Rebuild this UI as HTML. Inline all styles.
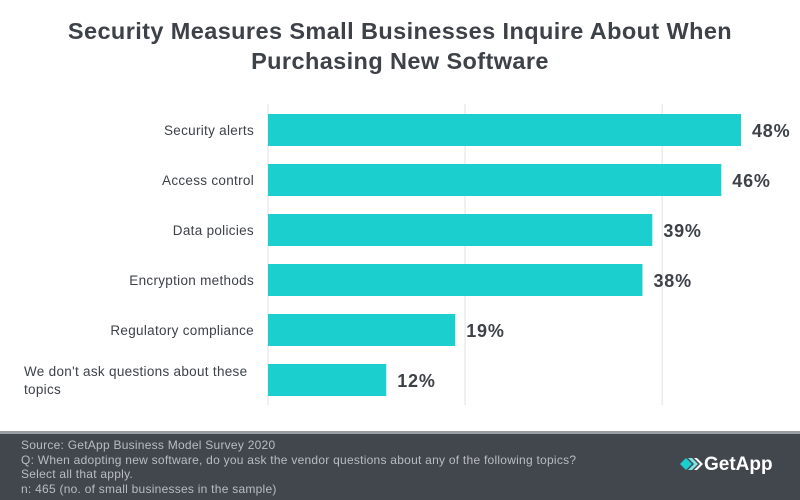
<!DOCTYPE html>
<html><head><meta charset="utf-8"><style>
body{margin:0;width:800px;height:500px;background:#fff;font-family:"Liberation Sans",sans-serif;overflow:hidden;position:relative}
#title{position:absolute;top:16px;left:0;width:800px;text-align:center;font-weight:bold;font-size:23.5px;letter-spacing:0.4px;line-height:30px;color:#3d4148}
#footer{position:absolute;left:0;top:431px;width:800px;height:69px;background:#42474e;border-top:3px solid #9a9da1;box-sizing:border-box}
#ftext{position:absolute;left:21px;top:4px;font-size:12px;letter-spacing:0.25px;line-height:14.7px;color:#b9bdc1}
#logo{position:absolute;left:680px;top:20px;color:#fff;font-weight:bold;font-size:19px}
</style></head><body>
<div id="title">Security Measures Small Businesses Inquire About When<br>Purchasing New Software</div>
<svg id="chart" width="800" height="430" style="position:absolute;left:0;top:0"></svg>
<div id="footer">
<div id="ftext">Source: GetApp Business Model Survey 2020<br>Q: When adopting new software, do you ask the vendor questions about any of the following topics?<br>Select all that apply.<br>n: 465 (no. of small businesses in the sample)</div>
<div id="logo"><svg width="24" height="16" style="vertical-align:-2px"><polygon points="0,8 6,2 12,8 6,14" fill="#1ccfcf"/><polygon points="8,2 12,2 18,8 12,14 8,14 14,8" fill="#7fe3e3"/><polygon points="14,2 17,2 23,8 17,14 14,14 20,8" fill="#fff"/></svg>GetApp</div>
</div>
<script>
const categories=["Security alerts","Access control","Data policies","Encryption methods","Regulatory compliance","We don't ask questions about these topics"];
const values=[48,46,39,38,19,12];
const gridTicks=[0,20,40];
const svg=document.getElementById('chart');
const NS='http://www.w3.org/2000/svg';
const x0=268,scale=(741-268)/48;
const xs=v=>x0+v*scale;
const ys=i=>114+i*50;
function mk(t,a){const e=document.createElementNS(NS,t);for(const k in a)e.setAttribute(k,a[k]);svg.appendChild(e);return e;}
gridTicks.forEach(t=>{const l=mk('line',{x1:xs(t),x2:xs(t),y1:104,y2:405,stroke:'#e2e2e2','stroke-width':1});

});
categories.forEach((c,i)=>{
const r=mk('rect',{x:x0,y:ys(i),width:xs(values[i])-x0,height:32,fill:'#1ccfcf'});


const v=mk('text',{x:xs(values[i])+11,y:ys(i)+23,'font-size':18,'letter-spacing':0.8,'font-weight':'bold',fill:'#3d4148','font-family':'Liberation Sans,sans-serif'});
v.textContent=values[i]+'%';


const words=c.length>30?["We don't ask questions about these","topics"]:[c];
words.forEach((w,j)=>{const t=mk('text',{x:254,y:ys(i)+21+(words.length>1?(j-0.5)*18:0),'font-size':13.5,'letter-spacing':0.3,fill:'#3d4148','text-anchor':'end','font-family':'Liberation Sans,sans-serif'});
if(words.length>1){t.setAttribute('text-anchor','start');t.setAttribute('x',24);}
t.textContent=w;

});
});
</script>
</body></html>
